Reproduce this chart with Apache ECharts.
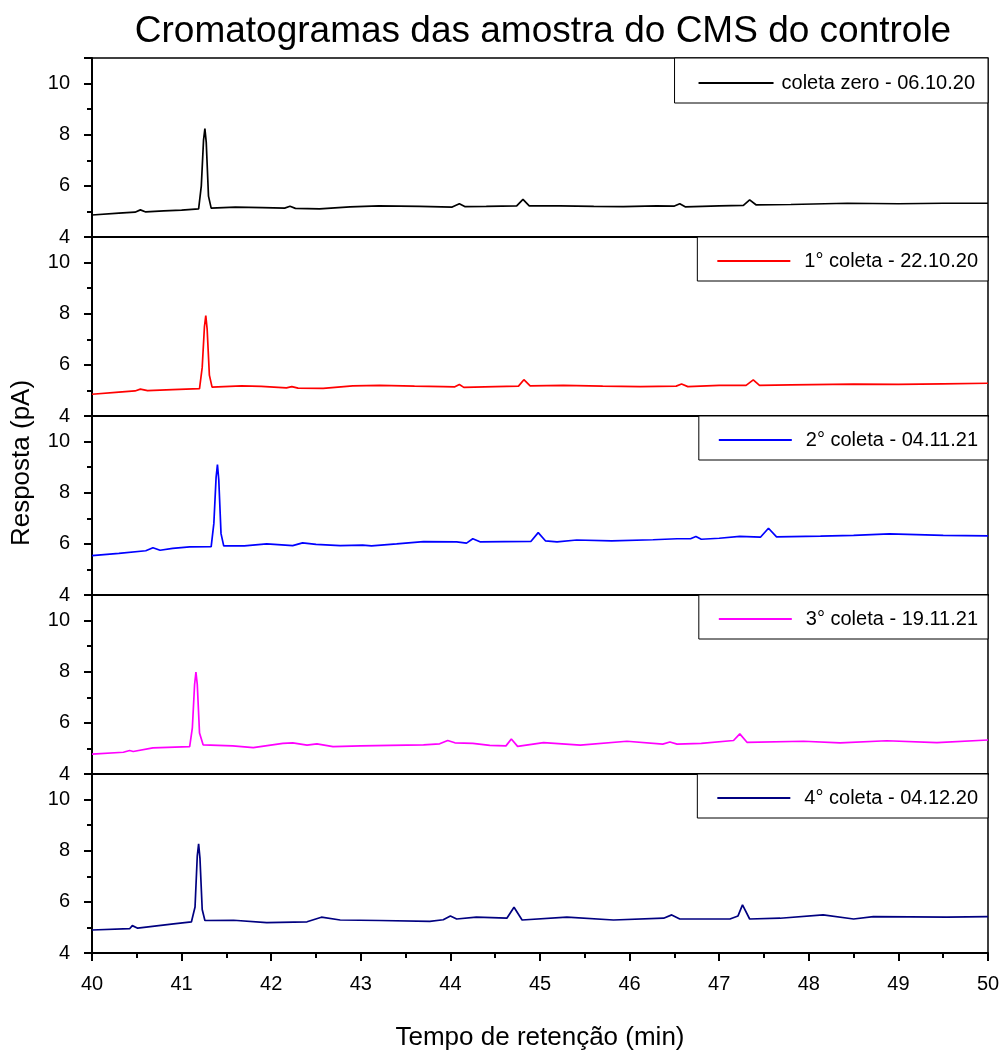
<!DOCTYPE html>
<html>
<head>
<meta charset="utf-8">
<script src="https://cdn.jsdelivr.net/npm/echarts@6/dist/echarts.min.js"></script>
<style>
  html, body { margin: 0; padding: 0; background: #fff; }
  #chart { width: 1004px; height: 1052px; }
</style>
</head>
<body>
<div id="chart"></div>
<script>
const coletaZero = [[40.0,4.86],[40.3,4.93],[40.48,4.97],[40.54,5.06],[40.6,4.98],[40.8,5.02],[41.0,5.05],[41.19,5.1],[41.22,6.0],[41.245,7.8],[41.26,8.24],[41.275,7.7],[41.3,5.6],[41.33,5.13],[41.6,5.17],[41.9,5.15],[42.15,5.13],[42.21,5.2],[42.27,5.12],[42.54,5.1],[42.88,5.18],[43.2,5.22],[43.66,5.2],[44.02,5.17],[44.1,5.3],[44.16,5.19],[44.4,5.2],[44.74,5.22],[44.81,5.47],[44.88,5.22],[45.22,5.22],[45.6,5.2],[45.93,5.19],[46.3,5.22],[46.5,5.21],[46.56,5.3],[46.62,5.18],[47.0,5.22],[47.27,5.24],[47.34,5.45],[47.41,5.26],[47.8,5.27],[48.43,5.32],[49.0,5.3],[49.5,5.32],[50.0,5.32]];
const coleta1 = [[40.0,4.85],[40.3,4.93],[40.48,4.98],[40.54,5.05],[40.62,4.99],[40.9,5.03],[41.2,5.07],[41.23,5.9],[41.255,7.5],[41.27,7.93],[41.285,7.4],[41.31,5.6],[41.34,5.13],[41.67,5.18],[41.89,5.16],[42.17,5.1],[42.23,5.15],[42.3,5.09],[42.58,5.08],[42.91,5.18],[43.21,5.2],[43.6,5.17],[43.92,5.15],[44.05,5.14],[44.1,5.23],[44.15,5.12],[44.5,5.15],[44.76,5.17],[44.82,5.42],[44.89,5.18],[45.26,5.2],[45.7,5.17],[46.12,5.15],[46.52,5.17],[46.58,5.25],[46.65,5.15],[47.0,5.2],[47.3,5.2],[47.38,5.41],[47.45,5.2],[47.8,5.22],[48.5,5.25],[49.0,5.24],[49.5,5.26],[50.0,5.28]];
const coleta2 = [[40.0,5.54],[40.3,5.63],[40.6,5.73],[40.68,5.85],[40.76,5.75],[40.9,5.82],[41.09,5.88],[41.33,5.89],[41.36,6.8],[41.385,8.6],[41.4,9.1],[41.415,8.5],[41.44,6.4],[41.47,5.92],[41.7,5.92],[41.95,6.0],[42.24,5.93],[42.35,6.04],[42.5,5.98],[42.77,5.93],[43.02,5.95],[43.12,5.92],[43.4,6.0],[43.7,6.09],[44.07,6.08],[44.18,6.03],[44.25,6.2],[44.33,6.08],[44.6,6.09],[44.9,6.1],[44.98,6.44],[45.06,6.12],[45.19,6.08],[45.41,6.15],[45.8,6.12],[46.26,6.16],[46.53,6.2],[46.68,6.2],[46.74,6.29],[46.8,6.18],[47.0,6.22],[47.23,6.29],[47.46,6.26],[47.55,6.61],[47.64,6.27],[48.13,6.3],[48.5,6.33],[48.9,6.39],[49.5,6.33],[50.0,6.31]];
const coleta3 = [[40.0,4.78],[40.35,4.85],[40.42,4.92],[40.46,4.88],[40.68,5.02],[41.09,5.07],[41.12,5.8],[41.145,7.5],[41.16,7.99],[41.175,7.5],[41.2,5.6],[41.24,5.14],[41.57,5.1],[41.8,5.03],[42.13,5.2],[42.24,5.22],[42.4,5.13],[42.51,5.18],[42.69,5.07],[43.0,5.1],[43.33,5.12],[43.7,5.14],[43.88,5.18],[43.97,5.31],[44.05,5.22],[44.25,5.2],[44.44,5.12],[44.62,5.1],[44.68,5.37],[44.75,5.08],[45.04,5.23],[45.45,5.13],[45.97,5.28],[46.37,5.17],[46.45,5.25],[46.53,5.17],[46.8,5.2],[47.16,5.31],[47.23,5.57],[47.31,5.24],[47.94,5.28],[48.35,5.22],[48.87,5.3],[49.43,5.23],[50.0,5.33]];
const coleta4 = [[40.0,4.9],[40.42,4.95],[40.45,5.07],[40.51,4.97],[40.91,5.14],[41.11,5.22],[41.15,5.8],[41.175,7.8],[41.19,8.27],[41.205,7.7],[41.23,5.7],[41.26,5.27],[41.58,5.28],[41.95,5.19],[42.4,5.22],[42.56,5.4],[42.77,5.29],[43.21,5.27],[43.77,5.24],[43.92,5.3],[44.0,5.45],[44.07,5.33],[44.29,5.4],[44.63,5.36],[44.71,5.79],[44.8,5.29],[45.3,5.4],[45.82,5.29],[46.38,5.36],[46.47,5.49],[46.56,5.33],[47.12,5.33],[47.21,5.45],[47.26,5.88],[47.34,5.33],[47.68,5.36],[48.16,5.49],[48.5,5.33],[48.72,5.42],[49.54,5.4],[50.0,5.42]];

const seriesNames = ['coleta zero - 06.10.20', '1° coleta - 22.10.20', '2° coleta - 04.11.21', '3° coleta - 19.11.21', '4° coleta - 04.12.20'];
const seriesData = [coletaZero, coleta1, coleta2, coleta3, coleta4];
const seriesColors = ['#000000', '#ff0000', '#0000ff', '#ff00ff', '#000080'];

const font = 'Liberation Sans, Arial, sans-serif';
const panelTop = 58;
const panelH = 179;

const grids = [], xAxes = [], yAxes = [], series = [], legends = [];
seriesData.forEach((data, i) => {
  const last = i === seriesData.length - 1;
  grids.push({
    left: 92, right: 16, top: panelTop + panelH * i, height: panelH,
    show: true, borderColor: '#000', borderWidth: 1.5
  });
  xAxes.push({
    type: 'value', gridIndex: i, min: 40, max: 50, interval: 1,
    axisLine: { show: true, lineStyle: { color: '#000', width: 2 } },
    axisTick: { show: last, length: 8, lineStyle: { width: 2, color: '#000' } },
    minorTick: { show: last, splitNumber: 2, length: 5, lineStyle: { width: 2, color: '#000' } },
    axisLabel: { show: last, fontSize: 20, color: '#000', fontFamily: font, margin: 21 },
    splitLine: { show: false },
    name: last ? 'Tempo de retenção (min)' : '',
    nameLocation: 'middle', nameGap: 72,
    nameTextStyle: { fontSize: 26, color: '#000', fontFamily: font }
  });
  yAxes.push({
    type: 'value', gridIndex: i, min: 4, max: 11, interval: 2,
    axisLine: { show: true, lineStyle: { color: '#000', width: 2 } },
    axisTick: { show: true, length: 8, lineStyle: { width: 2, color: '#000' } },
    minorTick: { show: true, splitNumber: 2, length: 5, lineStyle: { width: 2, color: '#000' } },
    axisLabel: {
      fontSize: 20, color: '#000', fontFamily: font, margin: 22,
      formatter: v => (v > 10.5 ? '' : v)
    },
    splitLine: { show: false }
  });
  series.push({
    name: seriesNames[i], type: 'line', xAxisIndex: i, yAxisIndex: i,
    data: data, symbol: 'none', color: seriesColors[i],
    lineStyle: { width: 1.7, color: seriesColors[i] }
  });
  legends.push({
    data: [seriesNames[i]], right: 16, top: panelTop + panelH * i,
    orient: 'horizontal', icon: 'rect', itemWidth: i === 0 ? 75 : 73, itemHeight: 2,
    borderColor: '#000', borderWidth: 1, backgroundColor: '#fff',
    padding: i === 0 ? [15, 13, 10, 24] : [14, 10, 10, 20],
    selectedMode: false,
    textStyle: { fontSize: 20, color: '#000', fontFamily: font, padding: i === 0 ? [0, 0, 0, 3] : [0, 0, 0, 9] }
  });
});

const chart = echarts.init(document.getElementById('chart'));
chart.setOption({
  animation: false,
  backgroundColor: '#fff',
  title: {
    text: 'Cromatogramas das amostra do CMS do controle',
    left: 538, top: 8, textAlign: 'center',
    textStyle: { fontSize: 37, fontWeight: 'normal', color: '#000', fontFamily: font }
  },
  graphic: [{
    type: 'text', x: 22, y: 463, rotation: Math.PI / 2,
    style: { text: 'Resposta (pA)', fontSize: 26, fill: '#000', fontFamily: font, align: 'center', verticalAlign: 'middle' }
  }],
  legend: legends,
  grid: grids,
  xAxis: xAxes,
  yAxis: yAxes,
  series: series
});
</script>
</body>
</html>
